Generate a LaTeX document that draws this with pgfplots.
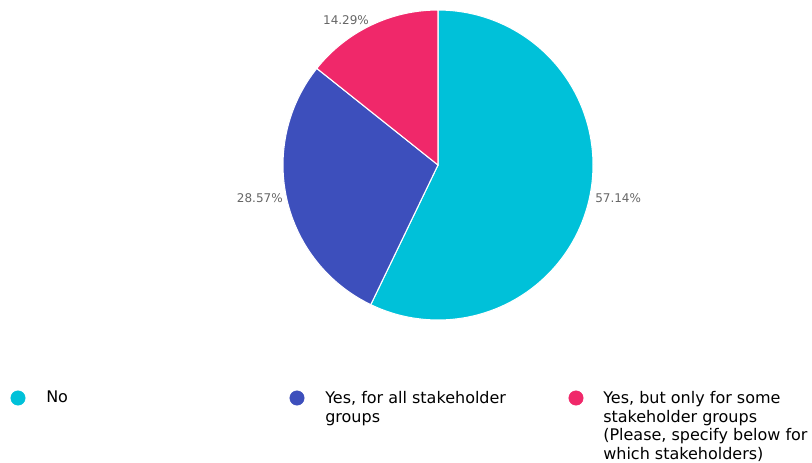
\documentclass[border=0pt]{standalone}
\usepackage{pgfplots}
\pgfplotsset{compat=1.18}
\usepackage{fontspec}
\setmainfont{DejaVu Sans}
\definecolor{cNo}{HTML}{00C1D9}
\definecolor{cAll}{HTML}{3D4FBC}
\definecolor{cSome}{HTML}{F0286A}
\definecolor{lbl}{HTML}{666666}
\begin{document}
\begin{tikzpicture}
% shares in percent
\pgfmathsetmacro{\pNo}{57.14}
\pgfmathsetmacro{\pAll}{28.57}
\pgfmathsetmacro{\pSome}{14.29}
\pgfmathsetmacro{\aA}{90}
\pgfmathsetmacro{\aB}{\aA-3.6*\pNo}
\pgfmathsetmacro{\aC}{\aB-3.6*\pAll}
\pgfmathsetmacro{\aD}{\aC-3.6*\pSome}
\begin{axis}[width=609pt,height=346.5pt,scale only axis,hide axis,
  xmin=0,xmax=812,ymin=0,ymax=462,clip=false]
\addplot[fill=cNo,draw=white,line width=0.8pt,domain=\aA:\aB,samples=150,variable=\t]
  ({438+155*cos(\t)},{297+155*sin(\t)}) -- (axis cs:438,297) -- cycle;
\addplot[fill=cAll,draw=white,line width=0.8pt,domain=\aB:\aC,samples=100,variable=\t]
  ({438+155*cos(\t)},{297+155*sin(\t)}) -- (axis cs:438,297) -- cycle;
\addplot[fill=cSome,draw=white,line width=0.8pt,domain=\aC:\aD,samples=60,variable=\t]
  ({438+155*cos(\t)},{297+155*sin(\t)}) -- (axis cs:438,297) -- cycle;
% legend markers
\addplot[only marks,mark=*,mark size=5.4pt,color=cNo] coordinates {(18,64)};
\addplot[only marks,mark=*,mark size=5.4pt,color=cAll] coordinates {(297,64)};
\addplot[only marks,mark=*,mark size=5.4pt,color=cSome] coordinates {(576,64)};
% slice labels
\node[text=lbl,anchor=west,inner sep=0pt,font=\fontsize{9}{11}\selectfont] at (axis cs:595,264) {57.14\%};
\node[text=lbl,anchor=east,inner sep=0pt,font=\fontsize{9}{11}\selectfont] at (axis cs:283,264) {28.57\%};
\node[text=lbl,anchor=center,inner sep=0pt,font=\fontsize{9}{11}\selectfont] at (axis cs:346,442) {14.29\%};
% legend texts
\node[anchor=north west,inner sep=0pt,align=left,font=\fontsize{12}{14}\selectfont] at (axis cs:46,71) {No};
\node[anchor=north west,inner sep=0pt,align=left,font=\fontsize{12}{14}\selectfont] at (axis cs:325,71) {Yes, for all stakeholder\\groups};
\node[anchor=north west,inner sep=0pt,align=left,font=\fontsize{12}{14}\selectfont] at (axis cs:603,71) {Yes, but only for some\\stakeholder groups\\(Please, specify below for\\which stakeholders)};
\end{axis}
\pgfresetboundingbox
\path (current axis.south west) rectangle (current axis.north east);
\end{tikzpicture}
\end{document}
